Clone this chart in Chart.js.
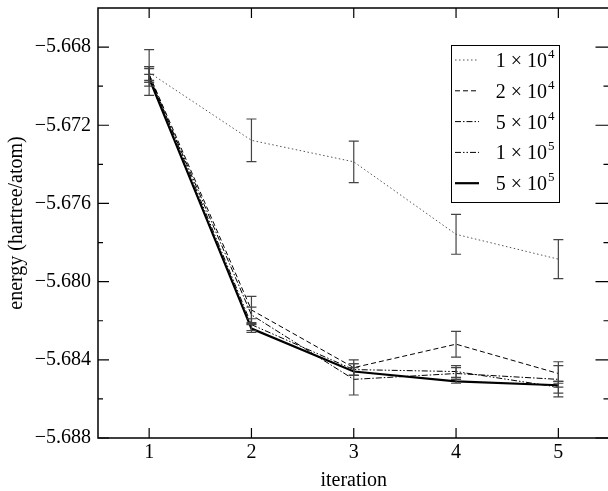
<!DOCTYPE html>
<html>
<head>
<meta charset="utf-8">
<script src="https://cdn.jsdelivr.net/npm/chart.js@4.4.1/dist/chart.umd.min.js"></script>
<style>
  html, body { margin: 0; padding: 0; background: #fff; overflow: hidden; }
  canvas { display: block; }
</style>
</head>
<body>
<canvas id="energyChart" width="612" height="491"></canvas>
<script>
// iteration number on x
const iterations = [1, 2, 3, 4, 5];
const xTicks = [1, 2, 3, 4, 5];
const yTicks = [-5.688, -5.684, -5.680, -5.676, -5.672, -5.668];
const yMinorTicks = [-5.686, -5.682, -5.678, -5.674, -5.670];

// energy per walker count (hartree/atom)
const energy1e4 = [-5.6693, -5.67277, -5.67387, -5.67758, -5.67885];
const error1e4  = [0.00117, 0.00109, 0.00106, 0.00102, 0.00100];
const energy2e4 = [-5.6694, -5.68145, -5.6844, -5.6832, -5.6847];
const error2e4  = [0.0004, 0.0007, 0.0004, 0.00066, 0.0004];
const energy5e4 = [-5.6695, -5.6817, -5.6850, -5.6847, -5.6850];
const error5e4  = [0.0005, 0.0004, 0.0008, 0.0003, 0.0009];
const energy1e5 = [-5.6694, -5.6822, -5.6845, -5.6846, -5.6854];
const error1e5  = [0.0003, 0.0003, 0.0003, 0.0003, 0.0003];
const energy5e5 = [-5.6696, -5.6824, -5.6846, -5.6851, -5.6853];
const error5e5  = [0.0002, 0.0002, 0.0002, 0.0001, 0.0001];

// legend text: mantissa x 10^exp
const legendMantissa = ['1', '2', '5', '1', '5'];
const legendExponent = ['4', '4', '4', '5', '5'];

const FONT = '"Liberation Serif", "DejaVu Serif", serif';

const series = [
  {data: energy1e4, err: error1e4, color: '#555', width: 1, dash: [1.5, 2.5]},
  {data: energy2e4, err: error2e4, color: '#000', width: 1, dash: [5, 3]},
  {data: energy5e4, err: error5e4, color: '#000', width: 1, dash: [6, 2, 1.5, 2]},
  {data: energy1e5, err: error1e5, color: '#000', width: 1, dash: [6, 2, 1.5, 2, 1.5, 2]},
  {data: energy5e5, err: error5e5, color: '#000', width: 2.2, dash: []}
];

// error bars, frame with inward ticks, legend
const decorations = {
  id: 'decorations',
  afterDatasetsDraw(chart) {
    const ctx = chart.ctx;
    const a = chart.chartArea;
    const x = chart.scales.x, y = chart.scales.y;

    ctx.save();
    // error bars
    chart.data.datasets.forEach(ds => {
      ctx.strokeStyle = '#444';
      ctx.lineWidth = 1.2;
      ctx.setLineDash([]);
      ds.data.forEach((p, i) => {
        const px = x.getPixelForValue(p.x);
        const t = y.getPixelForValue(p.y + ds.errors[i]);
        const b = y.getPixelForValue(p.y - ds.errors[i]);
        ctx.beginPath();
        ctx.moveTo(px, t); ctx.lineTo(px, b);
        ctx.moveTo(px - 5, t); ctx.lineTo(px + 5, t);
        ctx.moveTo(px - 5, b); ctx.lineTo(px + 5, b);
        ctx.stroke();
      });
    });

    // frame
    ctx.strokeStyle = '#000';
    ctx.lineWidth = 1.5;
    ctx.strokeRect(a.left, a.top, a.right - a.left, a.bottom - a.top);

    // ticks pointing inward
    ctx.lineWidth = 1.2;
    ctx.beginPath();
    xTicks.forEach(v => {
      const px = x.getPixelForValue(v);
      ctx.moveTo(px, a.bottom); ctx.lineTo(px, a.bottom - 10);
      ctx.moveTo(px, a.top); ctx.lineTo(px, a.top + 10);
    });
    yTicks.forEach(v => {
      const py = y.getPixelForValue(v);
      ctx.moveTo(a.left, py); ctx.lineTo(a.left + 11, py);
      ctx.moveTo(a.right, py); ctx.lineTo(a.right - 14, py);
    });
    yMinorTicks.forEach(v => {
      const py = y.getPixelForValue(v);
      ctx.moveTo(a.left, py); ctx.lineTo(a.left + 5, py);
      ctx.moveTo(a.right, py); ctx.lineTo(a.right - 6, py);
    });
    ctx.stroke();

    // legend box
    const bx = 451, by = 45, bw = 108, bh = 157;
    ctx.fillStyle = '#fff';
    ctx.fillRect(bx, by, bw, bh);
    ctx.lineWidth = 1;
    ctx.strokeStyle = '#000';
    ctx.strokeRect(bx + 0.5, by + 0.5, bw, bh);
    chart.data.datasets.forEach((ds, i) => {
      const ly = 60 + i * 30.8;
      ctx.strokeStyle = ds.borderColor;
      ctx.lineWidth = ds.borderWidth;
      ctx.setLineDash(ds.borderDash);
      ctx.beginPath();
      ctx.moveTo(455, ly); ctx.lineTo(479, ly);
      ctx.stroke();
      ctx.setLineDash([]);
      ctx.fillStyle = '#000';
      ctx.textAlign = 'right';
      ctx.textBaseline = 'alphabetic';
      ctx.font = '20px ' + FONT;
      ctx.fillText(legendMantissa[i] + ' \u00d7 10', 547, ly + 7);
      ctx.textAlign = 'left';
      ctx.font = '13px ' + FONT;
      ctx.fillText(legendExponent[i], 548, ly - 2);
    });
    ctx.restore();
  }
};

new Chart(document.getElementById('energyChart'), {
  type: 'line',
  data: {
    labels: iterations,
    datasets: series.map((s, i) => ({
      label: legendMantissa[i] + ' \u00d7 10^' + legendExponent[i],
      data: s.data.map((v, j) => ({x: iterations[j], y: v})),
      errors: s.err,
      borderColor: s.color,
      borderWidth: s.width,
      borderDash: s.dash,
      pointRadius: 0,
      tension: 0,
      fill: false
    }))
  },
  options: {
    responsive: false,
    animation: false,
    layout: {padding: {top: 8, right: 2.5, left: 0, bottom: 0}},
    plugins: {legend: {display: false}, tooltip: {enabled: false}},
    scales: {
      x: {
        type: 'linear',
        min: 0.5, max: 5.5,
        afterBuildTicks: s => { s.ticks = xTicks.map(v => ({value: v})); },
        afterFit: s => { s.height = 53; s.paddingLeft = 0; s.paddingRight = 0; },
        grid: {display: false, drawTicks: false},
        border: {display: false},
        ticks: {color: '#000', padding: 3, font: {family: FONT, size: 20}, callback: v => String(v)},
        title: {display: true, text: 'iteration', color: '#000', font: {family: FONT, size: 20}, padding: {top: 0, bottom: -2}}
      },
      y: {
        type: 'linear',
        min: -5.688, max: -5.666,
        afterBuildTicks: s => { s.ticks = yTicks.map(v => ({value: v})); },
        afterFit: s => { s.width = 98; s.paddingTop = 0; s.paddingBottom = 0; },
        grid: {display: false, drawTicks: false},
        border: {display: false},
        ticks: {color: '#000', padding: 7, font: {family: FONT, size: 20},
          callback: v => '\u2212' + Math.abs(v).toFixed(3)},
        title: {display: true, text: 'energy (hartree/atom)', color: '#000', font: {family: FONT, size: 20}, padding: {top: 5, bottom: 0}}
      }
    }
  },
  plugins: [decorations]
});
</script>
</body>
</html>
